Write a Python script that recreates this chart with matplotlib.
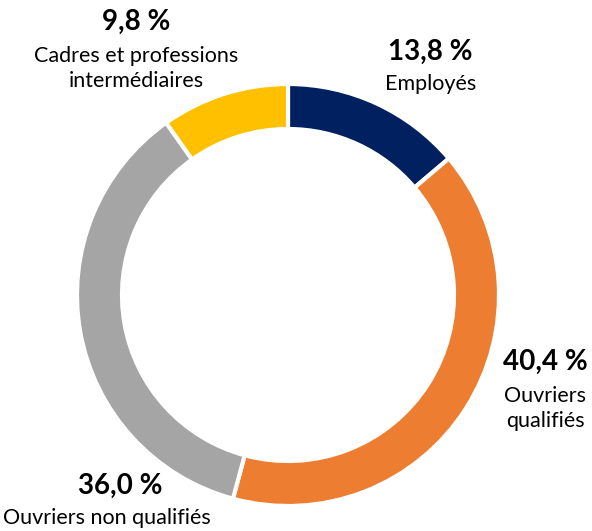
import matplotlib.pyplot as plt

labels = ['Employés', 'Ouvriers\nqualifiés', 'Ouvriers non qualifiés', 'Cadres et professions\nintermédiaires']
pcts = [13.8, 40.4, 36.0, 9.8]
colors = ['#002060', '#ED7D31', '#A5A5A5', '#FFC000']

plt.rcParams['font.family'] = ['Lato', 'DejaVu Sans']

fig = plt.figure(figsize=(5.92, 5.31), dpi=100)
ax = fig.add_axes([0, 0, 1, 1])

ax.pie(pcts, colors=colors, startangle=90, counterclock=False,
       center=(288, 236), radius=211,
       wedgeprops=dict(width=45, edgecolor='white', linewidth=3))

# pie() resets the limits, so set them afterwards
ax.set_xlim(0, 592)
ax.set_ylim(0, 531)
ax.set_aspect('equal')
ax.axis('off')

# label positions (pixel coords from the top-left): percent centre, label centre x
pos = [(430, 52, 431), (545, 362, 545), (120, 486, 107), (136, 22, 136)]
for (x, y, lx), p, lab in zip(pos, pcts, labels):
    ax.text(x, 531 - y, f'{p:.1f} %'.replace('.', ','), ha='center', va='center',
            fontsize=20, fontweight='bold')
    nlines = lab.count('\n') + 1
    cy = y + 32 + (nlines - 1) * 14.5
    ax.text(lx, 531 - cy, lab, ha='center', va='center', fontsize=15.5, linespacing=1.3)

fig.savefig('out.png', dpi=100)
